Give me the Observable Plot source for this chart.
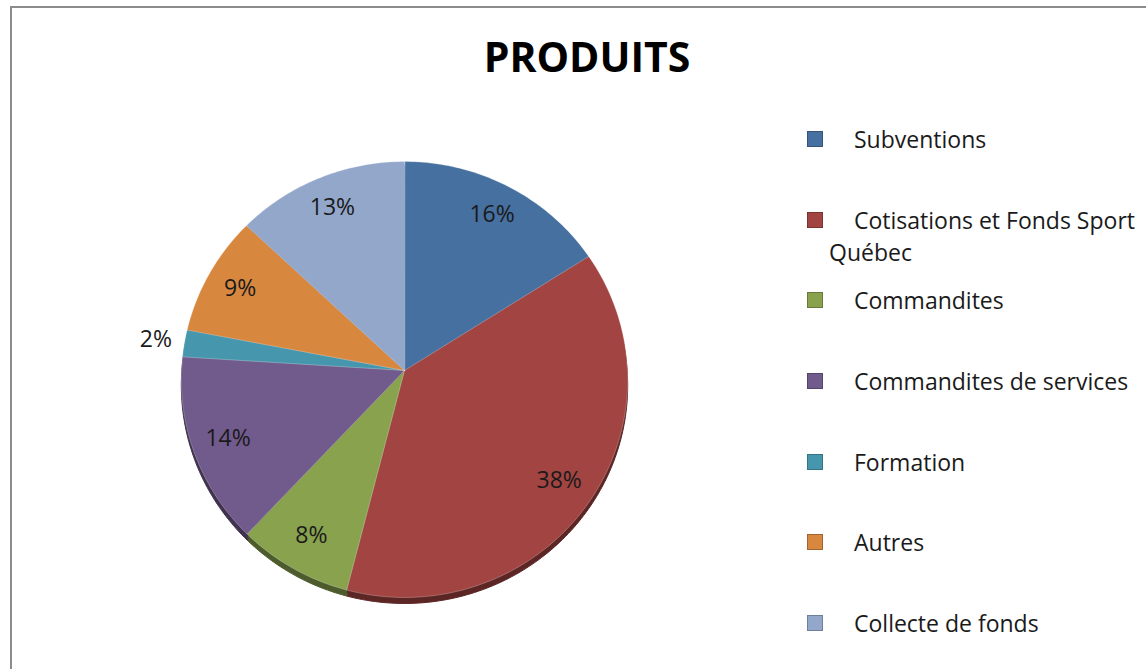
<!DOCTYPE html>
<html>
<head>
<meta charset="utf-8">
<script src="https://cdn.jsdelivr.net/npm/d3@7"></script>
<script src="https://cdn.jsdelivr.net/npm/@observablehq/plot@0.6"></script>
<style>
  html, body { margin: 0; padding: 0; background: #fff; }
  body { width: 1146px; height: 669px; overflow: hidden; position: relative; font-family: "Open Sans", sans-serif; }
  #frame { position: absolute; left: 10px; top: 6px; width: 1200px; height: 700px; border-left: 2px solid #8c8c8c; border-top: 2px solid #8c8c8c; box-sizing: border-box; }
  #chart { position: absolute; left: 0; top: 0; }
  #title { position: absolute; left: 0; width: 1174px; top: 26px; text-align: center; font-weight: 700; font-size: 41px; line-height: 60px; color: #000; }
  #legend { position: absolute; left: 807px; top: 123px; }
  .item { position: relative; height: 80.67px; width: 340px; }
  .sw { position: absolute; left: 0; top: 8px; width: 14px; height: 14px; border: 1px solid; }
  .lab { position: absolute; left: 22px; top: 0; width: 318px; text-indent: 25px; font-size: 23px; line-height: 32px; color: #1a1a1a; }
</style>
</head>
<body>
<div id="frame"></div>
<div id="chart"></div>
<div id="title">PRODUITS</div>
<div id="legend"></div>
<script>
// ---- data ----
const categories = ["Subventions", "Cotisations et Fonds Sport Québec", "Commandites", "Commandites de services", "Formation", "Autres", "Collecte de fonds"];
const values = [16, 38, 8, 14, 2, 9, 13];
const labels = ["16%", "38%", "8%", "14%", "2%", "9%", "13%"];
const colors = ["#4670A0", "#A24441", "#88A24E", "#715A8C", "#4697AD", "#D8873F", "#93A7CB"];

// ---- geometry (slight perspective tilt of the pie) ----
const tilt = 0.0413;
function project(r, a) {
  const d = -r * Math.cos(a);
  const k = 1 / (1 - tilt * d);
  return {x: r * Math.sin(a) * k, y: d * k};
}
const arcs = d3.pie().sort(null).value(d => d)(values);
const slices = arcs.map((arc, i) => {
  const pts = [project(0, 0)];
  const n = Math.max(2, Math.ceil((arc.endAngle - arc.startAngle) / (Math.PI / 180)));
  for (let j = 0; j <= n; j++) {
    pts.push(project(1, arc.startAngle + (arc.endAngle - arc.startAngle) * j / n));
  }
  return {pts, color: colors[i], side: d3.color(colors[i]).darker(1.6).formatHex()};
});
const labelData = arcs.map((arc, i) => {
  const mid = (arc.startAngle + arc.endAngle) / 2;
  const outside = values[i] < 5;
  const p = project(outside ? 1.13 : 0.84, mid);
  return {x: p.x, y: p.y, text: labels[i]};
});

const marks = [];
// side / depth of the pie
slices.forEach(s => marks.push(Plot.line(s.pts, {x: "x", y: "y", curve: "linear-closed", fill: s.side, stroke: s.side, strokeWidth: 1, dy: 6})));
slices.forEach(s => marks.push(Plot.line(s.pts, {x: "x", y: "y", curve: "linear-closed", fill: s.side, stroke: "none", dy: 3})));
// top faces
slices.forEach(s => marks.push(Plot.line(s.pts, {x: "x", y: "y", curve: "linear-closed", fill: s.color, stroke: "#ffffff", strokeOpacity: 0.25, strokeWidth: 1})));
marks.push(Plot.text(labelData, {x: "x", y: "y", text: "text", fill: "#1a1a1a", fontSize: 23, fontFamily: "Open Sans", textAnchor: "middle", lineAnchor: "middle"}));

const plot = Plot.plot({
  width: 1146,
  height: 669,
  margin: 0,
  x: {domain: [-1, 1], range: [181, 627], axis: null},
  y: {domain: [-1, 1], range: [152.4, 587.6], axis: null},
  style: {background: "transparent"},
  marks
});
document.getElementById("chart").appendChild(plot);

// ---- legend ----
const legend = document.getElementById("legend");
categories.forEach((c, i) => {
  const item = document.createElement("div");
  item.className = "item";
  const sw = document.createElement("div");
  sw.className = "sw";
  sw.style.background = colors[i];
  sw.style.borderColor = d3.color(colors[i]).darker(0.8).formatHex();
  const lab = document.createElement("div");
  lab.className = "lab";
  lab.textContent = c;
  item.appendChild(sw);
  item.appendChild(lab);
  legend.appendChild(item);
});
</script>
</body>
</html>
